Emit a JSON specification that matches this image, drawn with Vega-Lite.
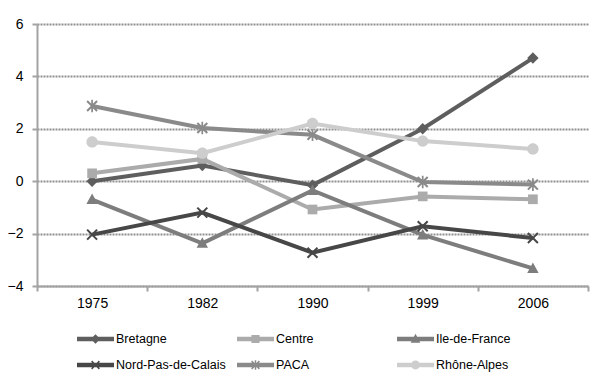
{
  "$schema": "https://vega.github.io/schema/vega-lite/v6.json",
  "width": 551,
  "height": 262,
  "autosize": {"type": "none"},
  "padding": {"left": 37, "top": 24, "right": 12, "bottom": 91},
  "background": "white",
  "config": {"view": {"stroke": null}, "font": "Liberation Sans"},
  "data": {"values": [
    {"region": "Bretagne", "year": "1975", "value": 0.0},
    {"region": "Bretagne", "year": "1982", "value": 0.6},
    {"region": "Bretagne", "year": "1990", "value": -0.15},
    {"region": "Bretagne", "year": "1999", "value": 2.0},
    {"region": "Bretagne", "year": "2006", "value": 4.7},
    {"region": "Centre", "year": "1975", "value": 0.3},
    {"region": "Centre", "year": "1982", "value": 0.85},
    {"region": "Centre", "year": "1990", "value": -1.08},
    {"region": "Centre", "year": "1999", "value": -0.58},
    {"region": "Centre", "year": "2006", "value": -0.69},
    {"region": "Ile-de-France", "year": "1975", "value": -0.7},
    {"region": "Ile-de-France", "year": "1982", "value": -2.37},
    {"region": "Ile-de-France", "year": "1990", "value": -0.35},
    {"region": "Ile-de-France", "year": "1999", "value": -2.05},
    {"region": "Ile-de-France", "year": "2006", "value": -3.33},
    {"region": "Nord-Pas-de-Calais", "year": "1975", "value": -2.04},
    {"region": "Nord-Pas-de-Calais", "year": "1982", "value": -1.2},
    {"region": "Nord-Pas-de-Calais", "year": "1990", "value": -2.73},
    {"region": "Nord-Pas-de-Calais", "year": "1999", "value": -1.72},
    {"region": "Nord-Pas-de-Calais", "year": "2006", "value": -2.17},
    {"region": "PACA", "year": "1975", "value": 2.87},
    {"region": "PACA", "year": "1982", "value": 2.03},
    {"region": "PACA", "year": "1990", "value": 1.77},
    {"region": "PACA", "year": "1999", "value": -0.03},
    {"region": "PACA", "year": "2006", "value": -0.13},
    {"region": "Rhône-Alpes", "year": "1975", "value": 1.5},
    {"region": "Rhône-Alpes", "year": "1982", "value": 1.07},
    {"region": "Rhône-Alpes", "year": "1990", "value": 2.2},
    {"region": "Rhône-Alpes", "year": "1999", "value": 1.53},
    {"region": "Rhône-Alpes", "year": "2006", "value": 1.23}
  ]},
  "encoding": {
    "x": {
      "field": "year", "type": "ordinal",
      "scale": {"type": "band", "paddingInner": 0, "paddingOuter": 0},
      "bandPosition": 0.5,
      "axis": {"title": null, "grid": false, "tickBand": "extent", "labelAngle": 0,
        "domainColor": "#a3a3a3", "domainWidth": 2, "tickColor": "#a3a3a3", "tickWidth": 2, "tickSize": 5,
        "labelFontSize": 14, "labelColor": "black", "labelPadding": 5}
    },
    "y": {
      "field": "value", "type": "quantitative",
      "scale": {"domain": [-4, 6], "nice": false, "zero": false},
      "axis": {"title": null, "values": [-4, -2, 0, 2, 4, 6], "grid": true,
        "gridColor": "#8f8f8f", "gridDash": [2, 1], "gridWidth": 2,
        "domainColor": "#a3a3a3", "domainWidth": 2, "tickColor": "#a3a3a3", "tickWidth": 2, "tickSize": 5,
        "labelFontSize": 14, "labelColor": "black", "labelPadding": 9}
    }
  },
  "layer": [
    {
      "mark": {"type": "line", "strokeWidth": 4},
      "encoding": {
        "stroke": {"field": "region", "type": "nominal", "legend": null,
          "scale": {"domain": ["Bretagne", "Centre", "Ile-de-France", "Nord-Pas-de-Calais", "PACA", "Rhône-Alpes"],
            "range": ["#5e5e5e", "#ababab", "#7d7d7d", "#474747", "#8a8a8a", "#cdcdcd"]}}
      }
    },
    {
      "mark": {"type": "point", "filled": true, "size": 130, "opacity": 1},
      "encoding": {
        "fill": {"field": "region", "type": "nominal", "legend": null,
          "scale": {"domain": ["Bretagne", "Centre", "Ile-de-France", "Nord-Pas-de-Calais", "PACA", "Rhône-Alpes"],
            "range": ["#5e5e5e", "#ababab", "#7d7d7d", "#474747", "#8a8a8a", "#cdcdcd"]}},
        "shape": {"field": "region", "type": "nominal", "legend": null,
          "scale": {"domain": ["Bretagne", "Centre", "Ile-de-France", "Nord-Pas-de-Calais", "PACA", "Rhône-Alpes"],
            "range": [
              "M0,-1L1,0L0,1L-1,0Z",
              "M-0.85,-0.85H0.85V0.85H-0.85Z",
              "M0,-1.05L1,0.8H-1Z",
              "M-1,-0.75L-0.75,-1L0,-0.25L0.75,-1L1,-0.75L0.25,0L1,0.75L0.75,1L0,0.25L-0.75,1L-1,0.75L-0.25,0Z",
              "M-1,-0.75L-0.75,-1L0,-0.25L0.75,-1L1,-0.75L0.25,0L1,0.75L0.75,1L0,0.25L-0.75,1L-1,0.75L-0.25,0Z M-0.15,-1.1H0.15V1.1H-0.15Z",
              "M-1,0A1,1 0 1,1 1,0A1,1 0 1,1 -1,0Z"
            ]}}
      }
    },
    {
      "mark": {"type": "point", "filled": true, "opacity": 0},
      "encoding": {
        "color": {"field": "region", "type": "nominal",
          "scale": {"domain": ["Bretagne", "Centre", "Ile-de-France", "Nord-Pas-de-Calais", "PACA", "Rhône-Alpes"],
            "range": ["#5e5e5e", "#ababab", "#7d7d7d", "#474747", "#8a8a8a", "#cdcdcd"]},
          "legend": {"orient": "none", "legendX": 40, "legendY": 305, "direction": "horizontal", "columns": 3,
            "title": null, "symbolSize": 1369, "symbolStrokeWidth": 0, "symbolOpacity": 1, "labelOffset": 2,
            "labelFontSize": 12.5, "labelColor": "black", "clipHeight": 20, "rowPadding": 6, "columnPadding": 11,
            "gridAlign": "all", "padding": 0}},
        "shape": {"field": "region", "type": "nominal",
          "scale": {"domain": ["Bretagne", "Centre", "Ile-de-France", "Nord-Pas-de-Calais", "PACA", "Rhône-Alpes"],
            "range": [
              "M-1,-0.12H1V0.12H-1Z M0,-0.26L0.26,0L0,0.26L-0.26,0Z",
              "M-1,-0.12H1V0.12H-1Z M-0.22,-0.22H0.22V0.22H-0.22Z",
              "M-1,-0.12H1V0.12H-1Z M0,-0.28L0.26,0.2H-0.26Z",
              "M-1,-0.12H1V0.12H-1Z M-0.24,-0.18L-0.18,-0.24L0,-0.06L0.18,-0.24L0.24,-0.18L0.06,0L0.24,0.18L0.18,0.24L0,0.06L-0.18,0.24L-0.24,0.18L-0.06,0Z",
              "M-1,-0.12H1V0.12H-1Z M-0.24,-0.18L-0.18,-0.24L0,-0.06L0.18,-0.24L0.24,-0.18L0.06,0L0.24,0.18L0.18,0.24L0,0.06L-0.18,0.24L-0.24,0.18L-0.06,0Z M-0.04,-0.26H0.04V0.26H-0.04Z",
              "M-1,-0.12H1V0.12H-1Z M-0.24,0A0.24,0.24 0 1,1 0.24,0A0.24,0.24 0 1,1 -0.24,0Z"
            ]},
          "legend": {"orient": "none", "legendX": 40, "legendY": 305, "direction": "horizontal", "columns": 3,
            "title": null, "symbolSize": 1369, "symbolStrokeWidth": 0, "symbolOpacity": 1, "labelOffset": 2,
            "labelFontSize": 12.5, "labelColor": "black", "clipHeight": 20, "rowPadding": 6, "columnPadding": 11,
            "gridAlign": "all", "padding": 0}}
      }
    }
  ],
  "resolve": {"scale": {"shape": "independent", "color": "independent"}}
}
